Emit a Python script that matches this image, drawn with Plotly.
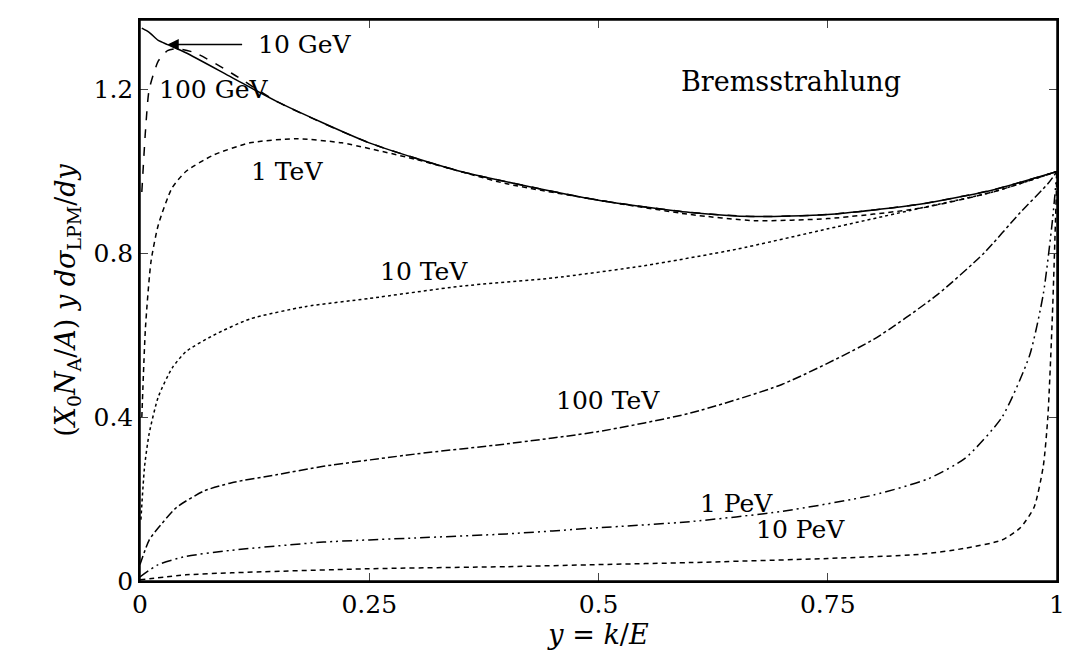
import plotly.graph_objects as go

# y = k/E and (X0 NA/A) y dsigma/dy
y_10gev = [0.002, 0.01, 0.02, 0.03, 0.05, 0.1, 0.15, 0.25, 0.35, 0.5, 0.6, 0.67, 0.75, 0.85, 0.93, 1.0]
v_10gev = [1.35, 1.34, 1.32, 1.31, 1.29, 1.23, 1.17, 1.07, 1.0, 0.93, 0.9, 0.89, 0.895, 0.92, 0.955, 1.0]

y_100gev = [0.002, 0.006, 0.01, 0.02, 0.03, 0.04, 0.06, 0.1, 0.15, 0.25, 0.35, 0.5, 0.6, 0.67, 0.75, 0.85, 0.93, 1.0]
v_100gev = [0.95, 1.1, 1.2, 1.27, 1.295, 1.3, 1.29, 1.24, 1.17, 1.07, 1.0, 0.93, 0.9, 0.89, 0.895, 0.92, 0.955, 1.0]

y_1tev = [0.002, 0.006, 0.012, 0.02, 0.035, 0.05, 0.08, 0.12, 0.17, 0.22, 0.3, 0.4, 0.5, 0.6, 0.67, 0.75, 0.85, 0.93, 1.0]
v_1tev = [0.4, 0.62, 0.78, 0.87, 0.96, 1.0, 1.04, 1.07, 1.08, 1.07, 1.03, 0.97, 0.93, 0.895, 0.88, 0.885, 0.91, 0.95, 1.0]

y_10tev = [0.001, 0.005, 0.01, 0.02, 0.035, 0.05, 0.08, 0.12, 0.18, 0.25, 0.35, 0.45, 0.55, 0.65, 0.75, 0.85, 0.93, 1.0]
v_10tev = [0.15, 0.28, 0.36, 0.45, 0.52, 0.56, 0.6, 0.64, 0.67, 0.69, 0.72, 0.74, 0.77, 0.81, 0.86, 0.91, 0.95, 1.0]

y_100tev = [0.0, 0.01, 0.02, 0.04, 0.07, 0.1, 0.15, 0.2, 0.3, 0.4, 0.5, 0.6, 0.7, 0.8, 0.87, 0.92, 0.96, 0.99, 1.0]
v_100tev = [0.04, 0.1, 0.13, 0.18, 0.22, 0.24, 0.26, 0.28, 0.31, 0.335, 0.365, 0.41, 0.48, 0.59, 0.7, 0.8, 0.9, 0.97, 1.0]

y_1pev = [0.0, 0.02, 0.05, 0.1, 0.2, 0.3, 0.4, 0.5, 0.6, 0.7, 0.8, 0.86, 0.9, 0.94, 0.97, 0.985, 0.995, 1.0]
v_1pev = [0.01, 0.04, 0.06, 0.075, 0.095, 0.105, 0.115, 0.13, 0.145, 0.17, 0.21, 0.25, 0.3, 0.4, 0.55, 0.7, 0.88, 1.0]

y_10pev = [0.0, 0.05, 0.1, 0.25, 0.4, 0.5, 0.6, 0.75, 0.85, 0.9, 0.94, 0.96, 0.975, 0.985, 0.99, 0.995, 1.0]
v_10pev = [0.003, 0.015, 0.02, 0.03, 0.035, 0.04, 0.045, 0.055, 0.065, 0.08, 0.1, 0.13, 0.18, 0.28, 0.4, 0.65, 1.0]

series = [
    (y_10gev, v_10gev, "solid"),
    (y_100gev, v_100gev, "dash"),
    (y_1tev, v_1tev, "5px,4px"),
    (y_10tev, v_10tev, "dot"),
    (y_100tev, v_100tev, "dashdot"),
    (y_1pev, v_1pev, "10px,4px,2px,4px,2px,4px"),
    (y_10pev, v_10pev, "5px,4px"),
]

fig = go.Figure()
for xs, vs, dash in series:
    fig.add_trace(go.Scatter(x=xs, y=vs, mode="lines", cliponaxis=False,
                             line=dict(color="black", width=1.5, dash=dash, shape="spline", smoothing=0.6),
                             showlegend=False))

font = dict(family="DejaVu Serif", size=25, color="black")
labels = [
    (0.18, 1.31, "10 GeV"), (0.08, 1.2, "100 GeV"), (0.16, 1.0, "1 TeV"),
    (0.31, 0.755, "10 TeV"), (0.51, 0.44, "100 TeV"), (0.65, 0.19, "1 PeV"),
    (0.72, 0.125, "10 PeV"),
]
for x, yv, t in labels:
    fig.add_annotation(x=x, y=yv, text=t, showarrow=False, xanchor="center", font=font)
fig.add_annotation(x=0.71, y=1.22, text="Bremsstrahlung", showarrow=False, font=dict(family="DejaVu Serif", size=27, color="black"))
fig.add_annotation(x=0.03, y=1.31, ax=0.113, ay=1.31, axref="x", ayref="y", text="", showarrow=True,
                   arrowhead=2, arrowsize=1.5, arrowwidth=1.5, arrowcolor="black")
fig.add_shape(type="rect", xref="paper", yref="paper", x0=0, y0=0, x1=1, y1=1, line=dict(color="black", width=1.5))

axis = dict(showline=True, mirror="ticks", linecolor="black", linewidth=1.5, ticks="inside", ticklen=8,
            showgrid=False, zeroline=False, tickfont=font, automargin=False)
tfont = dict(family="DejaVu Serif", size=27, color="black")
fig.update_xaxes(axis, range=[0, 1], tickvals=[0, 0.25, 0.5, 0.75, 1], ticktext=["0", "0.25", "0.5", "0.75", "1"],
                 title=dict(text="<i>y</i> = <i>k</i>/<i>E</i>", font=tfont, standoff=5))
fig.update_yaxes(axis, range=[0, 1.37], tickvals=[0, 0.4, 0.8, 1.2], ticktext=["0", "0.4", "0.8", "1.2"],
                 title=dict(text="(<i>X</i><sub>0</sub><i>N</i><sub>A</sub>/<i>A</i>) <i>y dσ</i><sub>LPM</sub>/<i>dy</i>",
                            font=tfont, standoff=10))
fig.update_layout(width=1073, height=669, plot_bgcolor="white", paper_bgcolor="white",
                  margin=dict(l=132, r=24, t=12, b=96))
fig.write_html("out.html")
